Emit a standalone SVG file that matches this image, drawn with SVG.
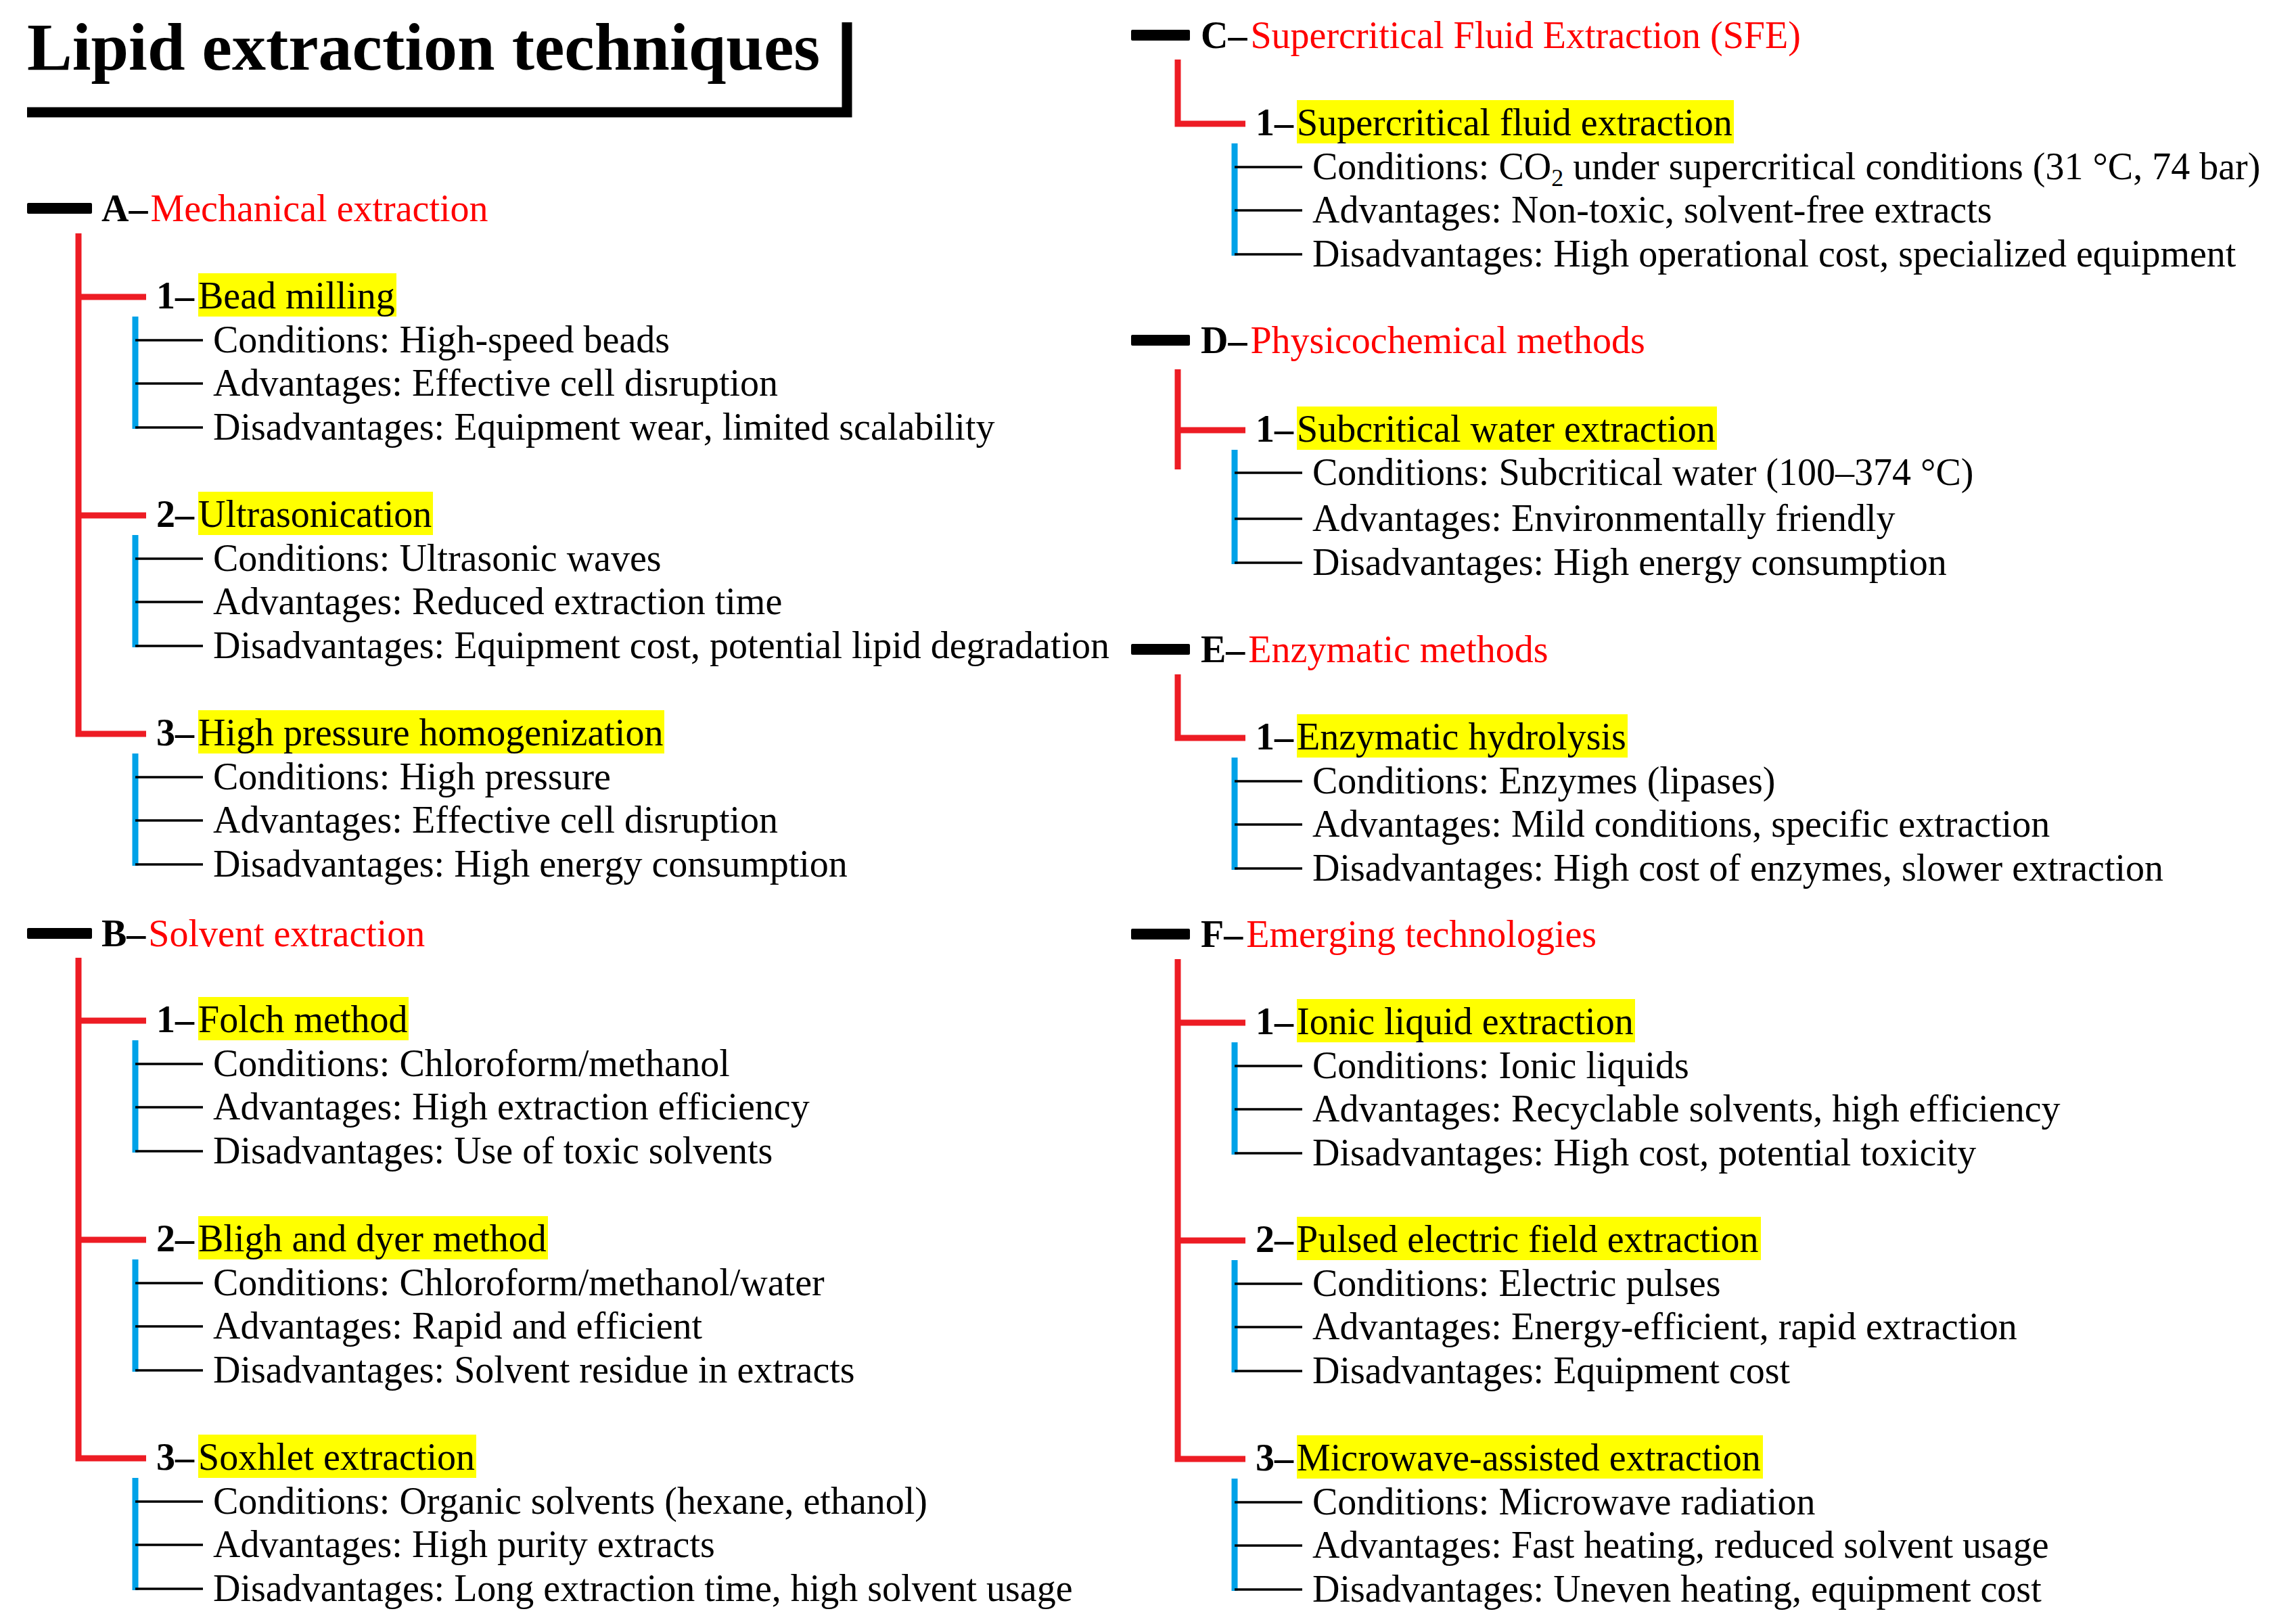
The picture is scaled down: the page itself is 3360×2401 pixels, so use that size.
<svg xmlns="http://www.w3.org/2000/svg" width="3360" height="2401" viewBox="0 0 3360 2401">
<style>
text{font-family:"Liberation Serif","Times New Roman",serif;font-size:56px;fill:#000;font-kerning:none}
.title{font-size:100px;font-weight:bold}
.b{font-weight:bold}
.red{fill:#FF0000}
.hl{fill:#FFFF00}
.bar{fill:#000}
.rl{stroke:#ED1C24;stroke-width:9;fill:none;stroke-linejoin:miter}
.bl{stroke:#00A2E8;stroke-width:9;fill:none}
.kl{stroke:#000;stroke-width:3.5;fill:none}
</style>
<rect width="3360" height="2401" fill="#fff"/>
<g id="title">
<text class="title" x="40" y="103">Lipid extraction techniques</text>
<path d="M40,166 H1252 V33" stroke="#000" stroke-width="15" fill="none" stroke-linejoin="miter"/>
</g>
<g id="connectors">
<path class="rl" d="M116,345 V1085 H216 M112,439 H216 M112,762 H216"/>
<path class="rl" d="M116,1416 V2156 H216 M112,1509 H216 M112,1833 H216"/>
<path class="rl" d="M1741,88 V183 H1841"/>
<path class="rl" d="M1741,546 V694 M1737,636 H1841"/>
<path class="rl" d="M1741,997 V1091 H1841"/>
<path class="rl" d="M1741,1418 V2157 H1841 M1737,1512 H1841 M1737,1834 H1841"/>
<path class="bl" d="M200,468 V634 M200,791 V957 M200,1114 V1280 M200,1538 V1704 M200,1862 V2028 M200,2185 V2351"/>
<path class="bl" d="M1825,212 V378 M1825,665 V834 M1825,1120 V1286 M1825,1541 V1707 M1825,1863 V2029 M1825,2186 V2352"/>
<path class="kl" d="M200,503 H300 M200,567 H300 M200,632 H300 M200,826 H300 M200,890 H300 M200,955 H300 M200,1149 H300 M200,1213 H300 M200,1278 H300 M200,1573 H300 M200,1637 H300 M200,1702 H300 M200,1897 H300 M200,1961 H300 M200,2026 H300 M200,2220 H300 M200,2284 H300 M200,2349 H300"/>
<path class="kl" d="M1825,247 H1925 M1825,311 H1925 M1825,376 H1925 M1825,699 H1925 M1825,767 H1925 M1825,832 H1925 M1825,1155 H1925 M1825,1219 H1925 M1825,1284 H1925 M1825,1576 H1925 M1825,1640 H1925 M1825,1705 H1925 M1825,1898 H1925 M1825,1962 H1925 M1825,2027 H1925 M1825,2221 H1925 M1825,2285 H1925 M1825,2350 H1925"/>
</g>
<g id="A">
<rect class="bar" x="40" y="300" width="96" height="16" rx="2"/>
<text class="b" x="150" y="327">A–<tspan class="red" font-weight="normal" dx="4">Mechanical extraction</tspan></text>
</g>
<g id="A1">
<rect class="hl" x="293" y="404" width="293" height="64"/>
<text class="b" x="231" y="456">1–</text><text x="293" y="456">Bead milling</text>
<text x="315" y="521">Conditions: High-speed beads</text>
<text x="315" y="585">Advantages: Effective cell disruption</text>
<text x="315" y="650">Disadvantages: Equipment wear, limited scalability</text>
</g>
<g id="A2">
<rect class="hl" x="293" y="727" width="347" height="64"/>
<text class="b" x="231" y="779">2–</text><text x="293" y="779">Ultrasonication</text>
<text x="315" y="844">Conditions: Ultrasonic waves</text>
<text x="315" y="908">Advantages: Reduced extraction time</text>
<text x="315" y="973">Disadvantages: Equipment cost, potential lipid degradation</text>
</g>
<g id="A3">
<rect class="hl" x="293" y="1050" width="689" height="64"/>
<text class="b" x="231" y="1102">3–</text><text x="293" y="1102">High pressure homogenization</text>
<text x="315" y="1167">Conditions: High pressure</text>
<text x="315" y="1231">Advantages: Effective cell disruption</text>
<text x="315" y="1296">Disadvantages: High energy consumption</text>
</g>
<g id="B">
<rect class="bar" x="40" y="1372" width="96" height="16" rx="2"/>
<text class="b" x="150" y="1399">B–<tspan class="red" font-weight="normal" dx="4">Solvent extraction</tspan></text>
</g>
<g id="B1">
<rect class="hl" x="293" y="1474" width="311" height="64"/>
<text class="b" x="231" y="1526">1–</text><text x="293" y="1526">Folch method</text>
<text x="315" y="1591">Conditions: Chloroform/methanol</text>
<text x="315" y="1655">Advantages: High extraction efficiency</text>
<text x="315" y="1720">Disadvantages: Use of toxic solvents</text>
</g>
<g id="B2">
<rect class="hl" x="293" y="1798" width="517" height="64"/>
<text class="b" x="231" y="1850">2–</text><text x="293" y="1850">Bligh and dyer method</text>
<text x="315" y="1915">Conditions: Chloroform/methanol/water</text>
<text x="315" y="1979">Advantages: Rapid and efficient</text>
<text x="315" y="2044">Disadvantages: Solvent residue in extracts</text>
</g>
<g id="B3">
<rect class="hl" x="293" y="2121" width="411" height="64"/>
<text class="b" x="231" y="2173">3–</text><text x="293" y="2173">Soxhlet extraction</text>
<text x="315" y="2238">Conditions: Organic solvents (hexane, ethanol)</text>
<text x="315" y="2302">Advantages: High purity extracts</text>
<text x="315" y="2367">Disadvantages: Long extraction time, high solvent usage</text>
</g>
<g id="C">
<rect class="bar" x="1672" y="44" width="87" height="16" rx="2"/>
<text class="b" x="1775" y="71">C–<tspan class="red" font-weight="normal" dx="5">Supercritical Fluid Extraction (SFE)</tspan></text>
</g>
<g id="C1">
<rect class="hl" x="1917" y="148" width="646" height="64"/>
<text class="b" x="1856" y="200">1–</text><text x="1917" y="200">Supercritical fluid extraction</text>
<text x="1940" y="265">Conditions: CO<tspan font-size="36" dy="10">2</tspan><tspan dy="-10"> under supercritical conditions (31 °C, 74 bar)</tspan></text>
<text x="1940" y="329">Advantages: Non-toxic, solvent-free extracts</text>
<text x="1940" y="394">Disadvantages: High operational cost, specialized equipment</text>
</g>
<g id="D">
<rect class="bar" x="1672" y="495" width="87" height="16" rx="2"/>
<text class="b" x="1775" y="522">D–<tspan class="red" font-weight="normal" dx="5">Physicochemical methods</tspan></text>
</g>
<g id="D1">
<rect class="hl" x="1917" y="601" width="621" height="64"/>
<text class="b" x="1856" y="653">1–</text><text x="1917" y="653">Subcritical water extraction</text>
<text x="1940" y="717">Conditions: Subcritical water (100–374 °C)</text>
<text x="1940" y="785">Advantages: Environmentally friendly</text>
<text x="1940" y="850">Disadvantages: High energy consumption</text>
</g>
<g id="E">
<rect class="bar" x="1672" y="952" width="87" height="16" rx="2"/>
<text class="b" x="1775" y="979">E–<tspan class="red" font-weight="normal" dx="5">Enzymatic methods</tspan></text>
</g>
<g id="E1">
<rect class="hl" x="1917" y="1056" width="489" height="64"/>
<text class="b" x="1856" y="1108">1–</text><text x="1917" y="1108">Enzymatic hydrolysis</text>
<text x="1940" y="1173">Conditions: Enzymes (lipases)</text>
<text x="1940" y="1237">Advantages: Mild conditions, specific extraction</text>
<text x="1940" y="1302">Disadvantages: High cost of enzymes, slower extraction</text>
</g>
<g id="F">
<rect class="bar" x="1672" y="1373" width="87" height="16" rx="2"/>
<text class="b" x="1775" y="1400">F–<tspan class="red" font-weight="normal" dx="5">Emerging technologies</tspan></text>
</g>
<g id="F1">
<rect class="hl" x="1917" y="1477" width="500" height="64"/>
<text class="b" x="1856" y="1529">1–</text><text x="1917" y="1529">Ionic liquid extraction</text>
<text x="1940" y="1594">Conditions: Ionic liquids</text>
<text x="1940" y="1658">Advantages: Recyclable solvents, high efficiency</text>
<text x="1940" y="1723">Disadvantages: High cost, potential toxicity</text>
</g>
<g id="F2">
<rect class="hl" x="1917" y="1799" width="686" height="64"/>
<text class="b" x="1856" y="1851">2–</text><text x="1917" y="1851">Pulsed electric field extraction</text>
<text x="1940" y="1916">Conditions: Electric pulses</text>
<text x="1940" y="1980">Advantages: Energy-efficient, rapid extraction</text>
<text x="1940" y="2045">Disadvantages: Equipment cost</text>
</g>
<g id="F3">
<rect class="hl" x="1917" y="2122" width="689" height="64"/>
<text class="b" x="1856" y="2174">3–</text><text x="1917" y="2174">Microwave-assisted extraction</text>
<text x="1940" y="2239">Conditions: Microwave radiation</text>
<text x="1940" y="2303">Advantages: Fast heating, reduced solvent usage</text>
<text x="1940" y="2368">Disadvantages: Uneven heating, equipment cost</text>
</g>
</svg>
